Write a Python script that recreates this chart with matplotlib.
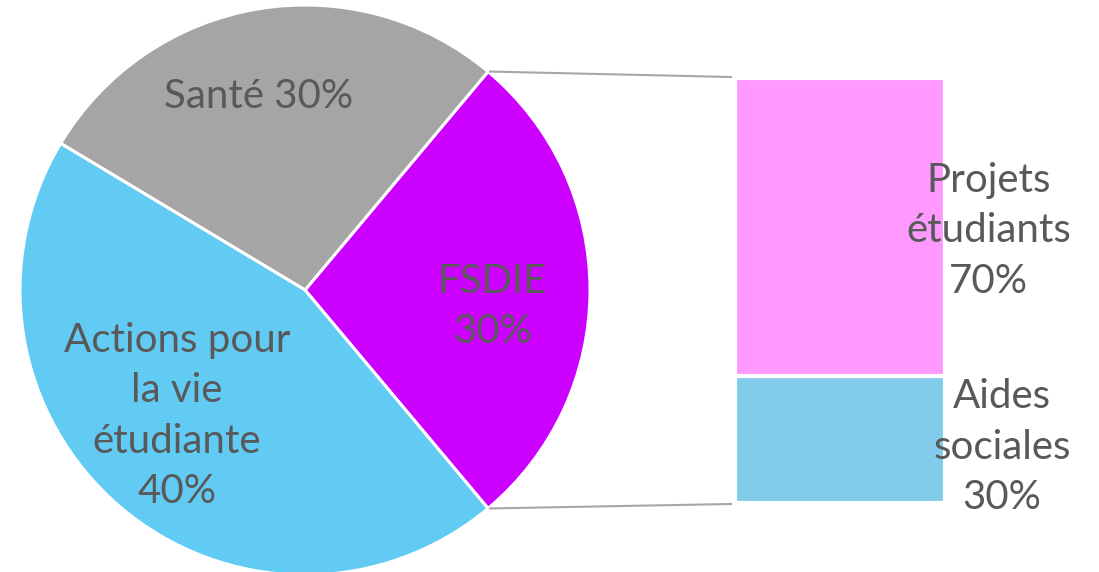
import numpy as np
import matplotlib.pyplot as plt

# main pie: the "FSDIE" slice is split out into the bar on the right
pie_labels = ["FSDIE\n30%", "Santé 30%", "Actions pour\nla vie\nétudiante\n40%"]
pie_shares = [27.8, 27.5, 44.7]
pie_colors = ["#CC00FF", "#A5A5A5", "#61CBF3"]

bar_labels = ["Aides\nsociales\n30%", "Projets\nétudiants\n70%"]
bar_values = [30, 70]
bar_colors = ["#83CBEB", "#FF99FF"]

text_color = "#595959"
plt.rcParams['font.family'] = ['Lato', 'DejaVu Sans']

W, H = 1099, 572
fig = plt.figure(figsize=(W / 100, H / 100), dpi=100)
ax = fig.add_axes([0, 0, 1, 1])

# pixel-like coordinates, y measured from the bottom
cx, cy, R = 305, H - 290, 285
start = -pie_shares[0] / 100 * 360 / 2
wedges, _ = ax.pie(pie_shares, colors=pie_colors, startangle=start,
                   center=(cx, cy), radius=R, counterclock=True,
                   wedgeprops=dict(edgecolor="white", linewidth=2.2))

# label placement inside each wedge (radius fraction, angle shift)
label_r = [0.66, 0.70, 0.63]
label_dang = [-5, 4, -5]
for w, lab, rf, da in zip(wedges, pie_labels, label_r, label_dang):
    ang = np.deg2rad((w.theta1 + w.theta2) / 2 + da)
    ax.text(cx + rf * R * np.cos(ang), cy + rf * R * np.sin(ang), lab,
            ha="center", va="center", color=text_color, fontsize=29,
            linespacing=1.45)

# stacked bar for the breakdown of FSDIE
bx, bw = 840, 210
btop, bbot = H - 78, H - 503
scale = (btop - bbot) / sum(bar_values)
bottom = bbot
for val, col, lab, dy in zip(bar_values, bar_colors, bar_labels, [-8, -4]):
    h = val * scale
    ax.bar(bx, h, width=bw, bottom=bottom, color=col,
           edgecolor="white", linewidth=3)
    ax.text(1071, bottom + h / 2 + dy, lab, ha="right", va="center",
            multialignment="center", color=text_color, fontsize=29,
            linespacing=1.45)
    bottom += h

# connector lines from FSDIE wedge to the bar
fw = wedges[0]
for th, yb in [(fw.theta2, btop + 1), (fw.theta1, bbot - 1)]:
    t = np.deg2rad(th)
    ax.plot([cx + R * np.cos(t) + 2, bx - bw / 2 - 4],
            [cy + R * np.sin(t), yb], color="#A6A6A6", linewidth=1.5)

ax.set_xlim(0, W)
ax.set_ylim(0, H)
ax.set_aspect("auto")
ax.axis("off")

fig.savefig("out.png", dpi=100)
